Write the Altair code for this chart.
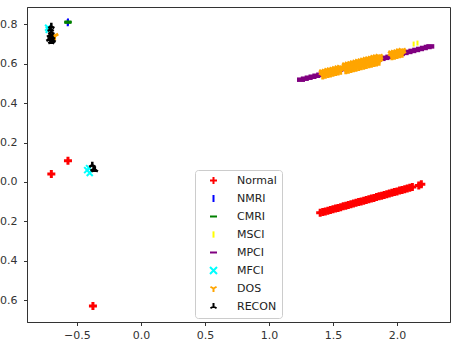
import altair as alt
import pandas as pd

# --- series styling -------------------------------------------------------
series_names = ["Normal", "NMRI", "CMRI", "MSCI", "MPCI", "MFCI", "DOS", "RECON"]
series_colors = ["red", "blue", "green", "yellow", "purple", "cyan", "orange", "black"]
series_shapes = [
    "M-1,0H1M0,-1V1",                              # plus
    "M0,-1V1",                                     # vertical bar
    "M-1,0H1",                                     # horizontal bar
    "M0,-0.9V0.9",                                 # short vertical bar
    "M-1,0H1",                                     # horizontal bar
    "M-1,-1L1,1M-1,1L1,-1",                        # x
    "M0,0V1M0,0L-0.87,-0.5M0,0L0.87,-0.5",         # tri down
    "M0,0V-1M0,0L-0.87,0.5M0,0L0.87,0.5",          # tri up
]

x_ticks = [-0.5, 0.0, 0.5, 1.0, 1.5, 2.0]
y_ticks = [-0.6, -0.4, -0.2, 0.0, 0.2, 0.4, 0.6, 0.8]

# --- point coordinates per series ----------------------------------------
normal_x = [-0.70, -0.57, -0.375,
            1.40, 1.42, 1.44, 1.46, 1.48, 1.50, 1.52, 1.54, 1.56, 1.58,
            1.60, 1.62, 1.64, 1.66, 1.68, 1.70, 1.72, 1.74, 1.76, 1.78,
            1.80, 1.82, 1.84, 1.86, 1.88, 1.90, 1.92, 1.94, 1.96, 1.98,
            2.00, 2.02, 2.04, 2.06, 2.08, 2.10, 2.12, 2.17, 2.19]
normal_y = [0.040, 0.107, -0.630,
            -0.157, -0.153, -0.150, -0.146, -0.142, -0.139, -0.135, -0.132, -0.128, -0.124,
            -0.121, -0.117, -0.113, -0.110, -0.106, -0.102, -0.099, -0.095, -0.092, -0.088,
            -0.084, -0.081, -0.077, -0.073, -0.070, -0.066, -0.062, -0.059, -0.055, -0.051,
            -0.048, -0.044, -0.041, -0.037, -0.033, -0.030, -0.026, -0.018, -0.012]

nmri_x = [-0.570, -0.572]
nmri_y = [0.812, 0.808]

cmri_x = [-0.570, -0.571, -0.569]
cmri_y = [0.813, 0.809, 0.811]

msci_x = [2.13, 2.16, 1.70, 1.80]
msci_y = [0.700, 0.705, 0.598, 0.614]

mpci_x = [1.25, 1.28, 1.31, 1.34, 1.37, 1.40, 1.43, 1.46, 1.49, 1.52, 1.55, 1.58,
          1.61, 1.64, 1.67, 1.70, 1.73, 1.76, 1.79, 1.82, 1.85, 1.88, 1.91, 1.94,
          1.97, 2.00, 2.03, 2.06, 2.09, 2.12, 2.15, 2.18, 2.21, 2.24, 2.26]
mpci_y = [0.519, 0.524, 0.529, 0.534, 0.539, 0.544, 0.549, 0.554, 0.559, 0.565, 0.570, 0.575,
          0.580, 0.585, 0.590, 0.595, 0.600, 0.605, 0.610, 0.615, 0.620, 0.625, 0.630, 0.635,
          0.640, 0.645, 0.650, 0.655, 0.660, 0.665, 0.670, 0.675, 0.680, 0.685, 0.688]

mfci_x = [-0.725, -0.720, -0.420, -0.400, -0.405]
mfci_y = [0.783, 0.772, 0.060, 0.045, 0.070]

dos_x = [-0.675,
         1.42, 1.44, 1.46, 1.48, 1.50, 1.52, 1.54, 1.56,
         1.42, 1.44, 1.46, 1.48, 1.50, 1.52, 1.54, 1.56,
         1.60, 1.62, 1.64, 1.66, 1.68, 1.70, 1.72, 1.74, 1.76, 1.78, 1.80, 1.82, 1.84, 1.86,
         1.60, 1.62, 1.64, 1.66, 1.68, 1.70, 1.72, 1.74, 1.76, 1.78, 1.80, 1.82, 1.84, 1.86,
         1.60, 1.62, 1.64, 1.66, 1.68, 1.70, 1.72, 1.74, 1.76, 1.78, 1.80, 1.82, 1.84, 1.86,
         1.96, 1.98, 2.00, 2.02, 2.04,
         1.96, 1.98, 2.00, 2.02, 2.04]
dos_y = [0.740,
         0.556, 0.559, 0.563, 0.566, 0.569, 0.573, 0.576, 0.579,
         0.542, 0.545, 0.549, 0.552, 0.555, 0.559, 0.562, 0.565,
         0.592, 0.595, 0.598, 0.602, 0.605, 0.609, 0.612, 0.615, 0.619, 0.622, 0.625, 0.629, 0.632, 0.635,
         0.580, 0.583, 0.586, 0.590, 0.593, 0.597, 0.600, 0.603, 0.607, 0.610, 0.613, 0.617, 0.620, 0.623,
         0.568, 0.571, 0.574, 0.578, 0.581, 0.585, 0.588, 0.591, 0.595, 0.598, 0.601, 0.605, 0.608, 0.611,
         0.652, 0.655, 0.658, 0.662, 0.665,
         0.639, 0.642, 0.645, 0.649, 0.652]

recon_x = [-0.700, -0.705, -0.700, -0.710, -0.695, -0.715, -0.690, -0.700, -0.705,
           -0.380, -0.370, -0.360]
recon_y = [0.790, 0.775, 0.760, 0.745, 0.735, 0.725, 0.720, 0.712, 0.730,
           0.085, 0.065, 0.062]

series_points = [
    (normal_x, normal_y, 64, 3.0),
    (nmri_x, nmri_y, 49, 2.0),
    (cmri_x, cmri_y, 49, 2.5),
    (msci_x, msci_y, 30, 2.0),
    (mpci_x, mpci_y, 64, 4.5),
    (mfci_x, mfci_y, 36, 2.0),
    (dos_x, dos_y, 72, 3.0),
    (recon_x, recon_y, 49, 2.5),
]

color_scale = alt.Scale(domain=series_names, range=series_colors)
shape_scale = alt.Scale(domain=series_names, range=series_shapes)
x_scale = alt.Scale(domain=[-0.89, 2.414], nice=False, zero=False)
y_scale = alt.Scale(domain=[-0.711, 0.888], nice=False, zero=False)

layers = []
for name, (xs, ys, size, sw) in zip(series_names, series_points):
    df = pd.DataFrame({"x": xs, "y": ys, "series": name})
    layers.append(
        alt.Chart(df)
        .mark_point(filled=False, size=size, strokeWidth=sw, opacity=1)
        .encode(
            x=alt.X("x:Q", scale=x_scale,
                    axis=alt.Axis(values=x_ticks, format=".1f", title=None)),
            y=alt.Y("y:Q", scale=y_scale,
                    axis=alt.Axis(values=y_ticks, format=".1f", title=None,
                                  labelPadding=6.5)),
            color=alt.Color("series:N", scale=color_scale,
                            legend=alt.Legend(title=None, orient="none",
                                              legendX=168, legendY=163)),
            shape=alt.Shape("series:N", scale=shape_scale, legend=alt.Legend(title=None)),
        )
    )

chart = (
    alt.layer(*layers)
    .properties(
        width=423,
        height=315,
        autosize=alt.AutoSizeParams(type="none"),
        padding={"left": 27, "top": 7, "right": 5, "bottom": 26},
    )
    .configure_view(stroke="#333333", strokeWidth=1)
    .configure_axis(
        grid=False,
        labelFont="DejaVu Sans",
        labelFontSize=11,
        labelColor="#333333",
        tickColor="#333333",
        domainColor="#333333",
        tickSize=3.5,
        labelPadding=3.5,
    )
    .configure_legend(
        labelFont="DejaVu Sans",
        labelFontSize=11,
        labelColor="#222222",
        symbolSize=49,
        symbolStrokeWidth=2,
        padding=5,
        symbolOffset=8,
        labelOffset=18,
        rowPadding=3,
        gridAlign="all",
        strokeColor="#cccccc",
        fillColor="rgba(255,255,255,0.8)",
        cornerRadius=3,
    )
)

chart.save("out.html", embed_options={"renderer": "svg", "actions": False})
